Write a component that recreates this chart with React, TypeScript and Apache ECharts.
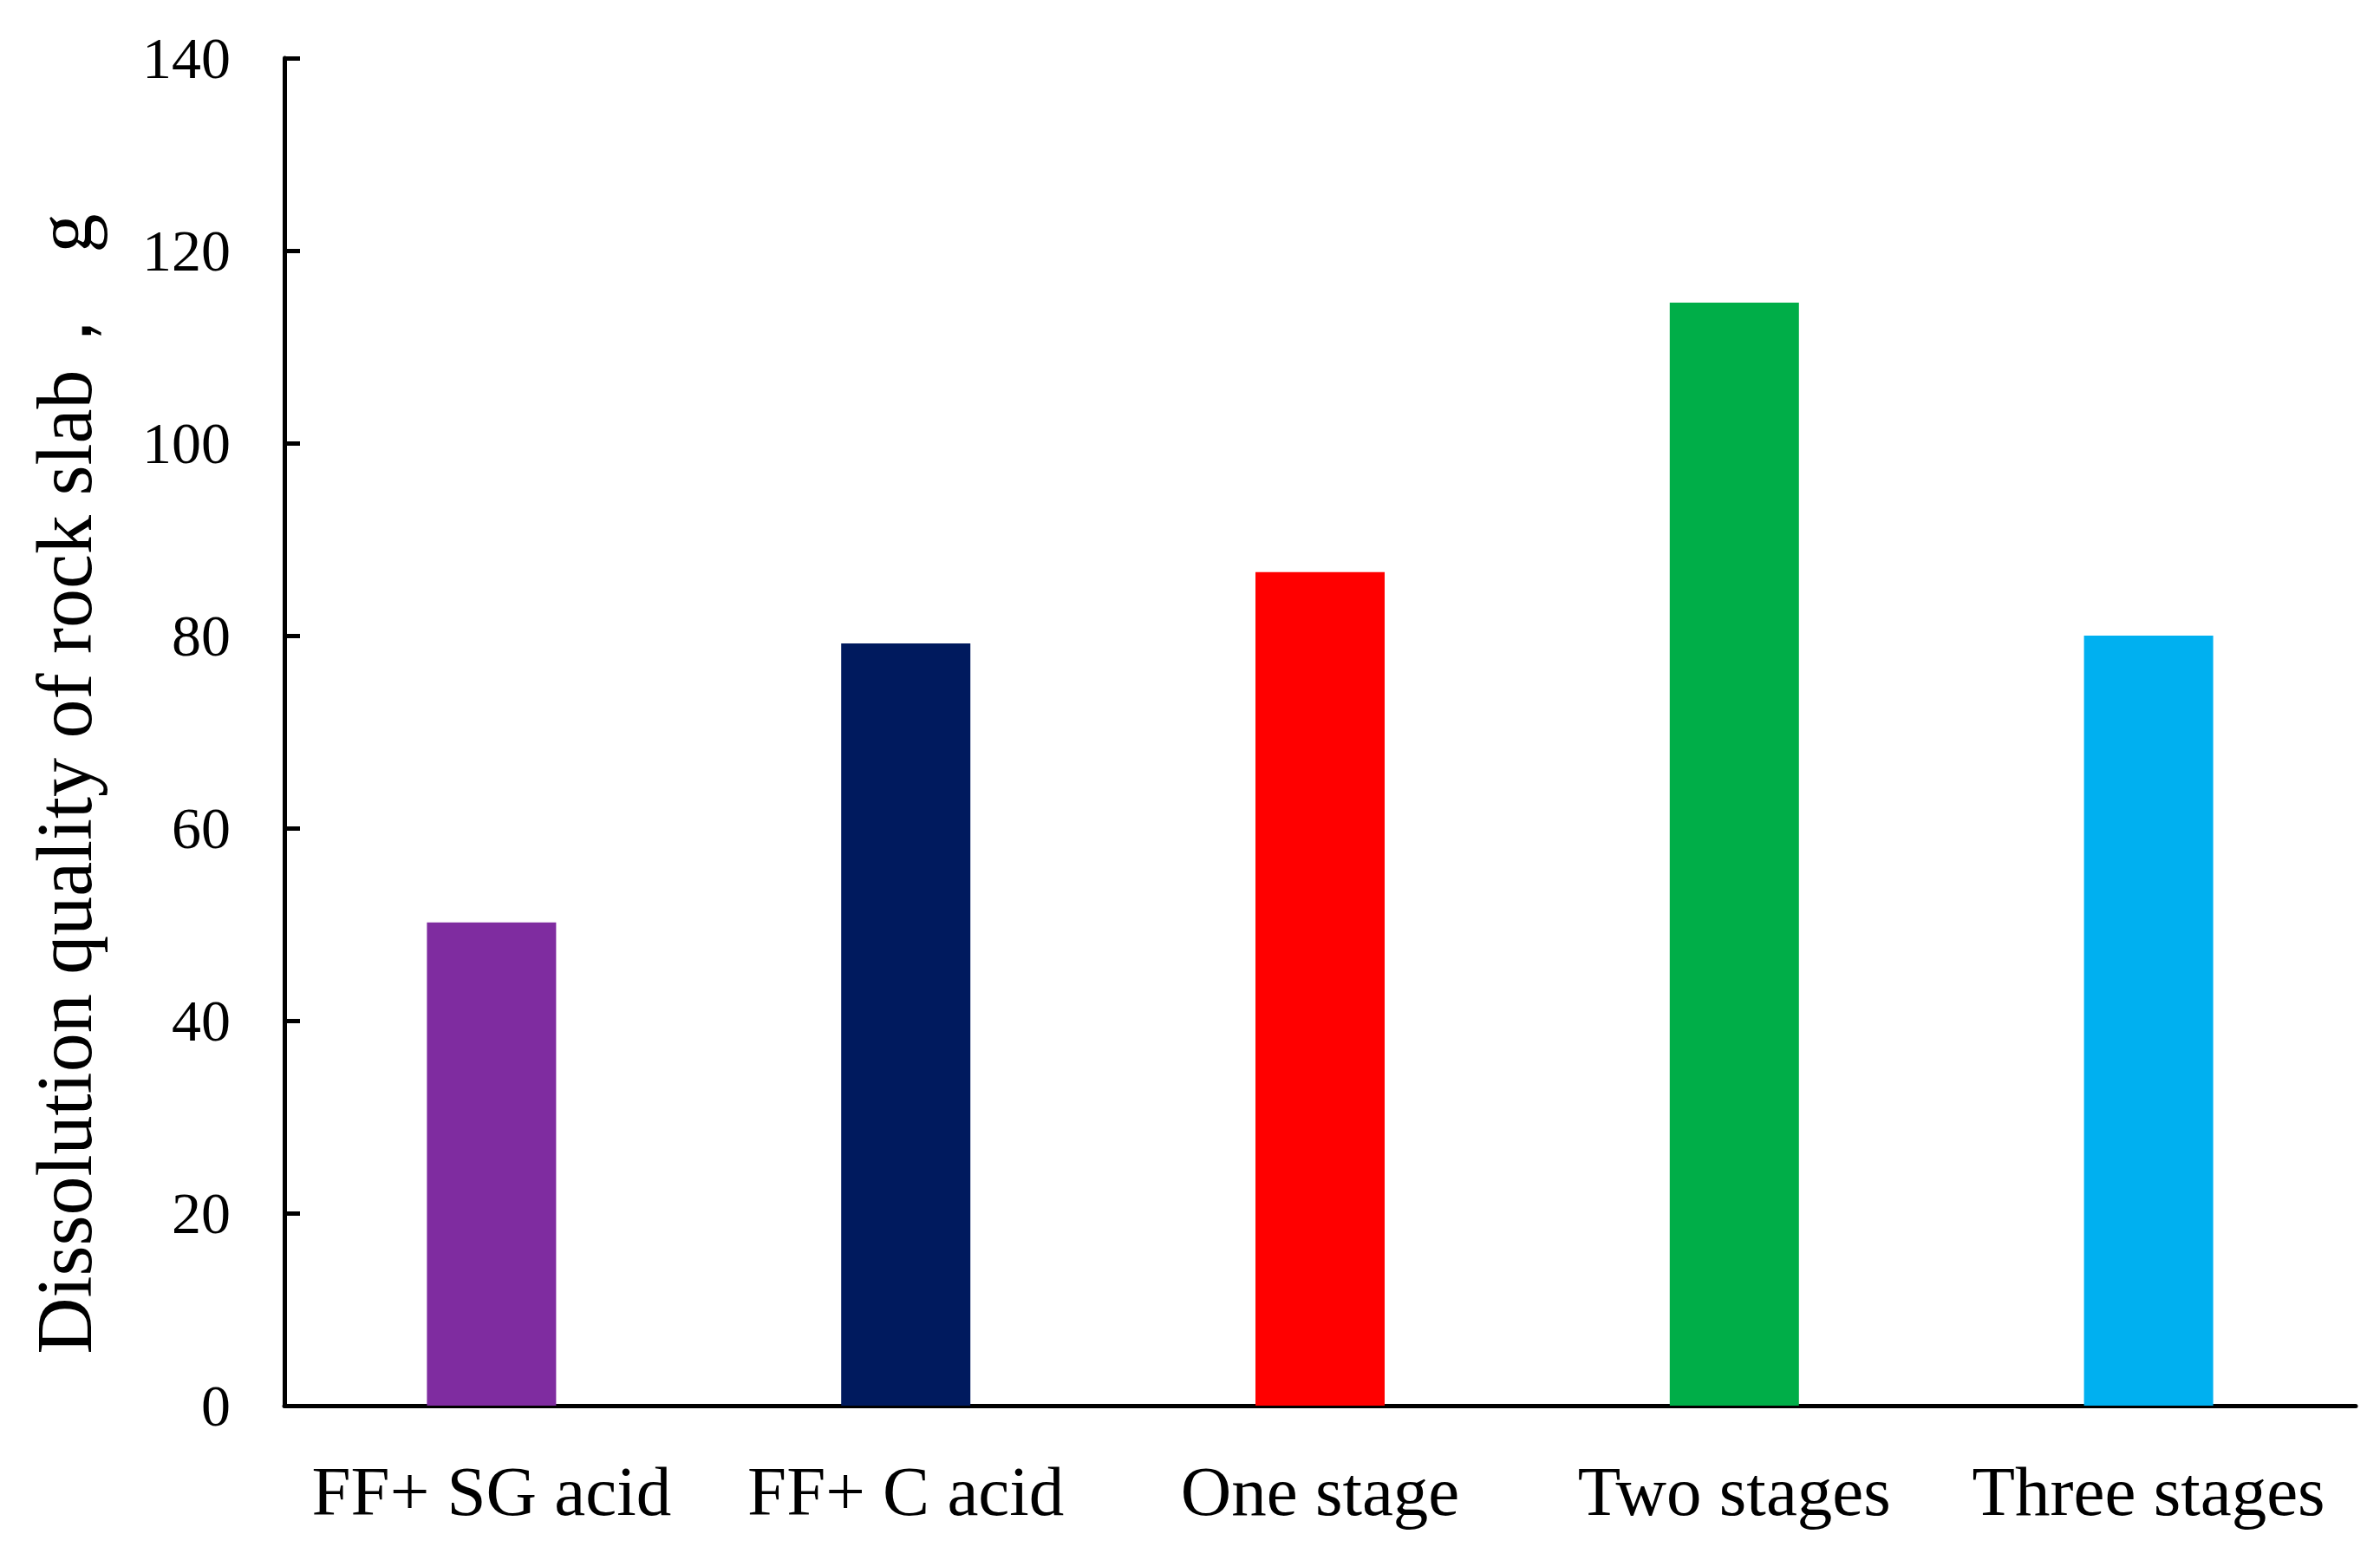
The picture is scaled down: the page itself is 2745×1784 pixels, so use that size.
import React, { useEffect, useRef } from "react";
import * as echarts from "echarts";

const categories = ["FF+ SG acid", "FF+ C acid", "One stage", "Two stages", "Three stages"];
const values = [50.2, 79.2, 86.6, 114.6, 80.0];
const barColors = ["#7F2CA0", "#001A5E", "#FF0000", "#00AE48", "#00B0F0"];
const yTicks = { min: 0, max: 140, interval: 20 };
const yTitle = "Dissolution quality of rock slab，  g";

const FONT = "'Liberation Serif', 'Times New Roman', serif";

export default function App() {
  const ref = useRef<HTMLDivElement>(null);
  useEffect(() => {
    if (!ref.current) return;
    const chart = echarts.init(ref.current, undefined, { renderer: "svg" });
    chart.setOption({
      animation: false,
      backgroundColor: "#ffffff",
      grid: { left: 328, right: 28, top: 67, bottom: 163, containLabel: false },
      xAxis: {
        type: "category",
        data: categories,
        axisLine: { show: true, lineStyle: { color: "#000", width: 5 } },
        axisTick: { show: false },
        axisLabel: {
          color: "#000",
          fontFamily: FONT,
          fontSize: 81,
          margin: 58,
          interval: 0,
        },
        splitLine: { show: false },
      },
      yAxis: {
        type: "value",
        min: yTicks.min,
        max: yTicks.max,
        interval: yTicks.interval,
        axisLine: { show: true, lineStyle: { color: "#000", width: 5 } },
        axisTick: { show: true, inside: true, length: 18, lineStyle: { color: "#000", width: 5 } },
        axisLabel: { color: "#000", fontFamily: FONT, fontSize: 68, margin: 62 },
        splitLine: { show: false },
      },
      graphic: [
        {
          type: "text",
          x: 74,
          y: 904,
          rotation: Math.PI / 2,
          style: {
            text: yTitle,
            fill: "#000",
            font: `90px ${FONT}`,
            textAlign: "center",
            textVerticalAlign: "middle",
          },
        },
      ],
      series: [
        {
          type: "bar",
          barWidth: 149,
          data: values.map((v, i) => ({ value: v, itemStyle: { color: barColors[i] } })),
        },
      ],
    });
    return () => chart.dispose();
  }, []);
  return (
    <div
      ref={ref}
      style={{ position: "fixed", left: 0, top: 0, width: 2745, height: 1784, background: "#fff" }}
    />
  );
}
